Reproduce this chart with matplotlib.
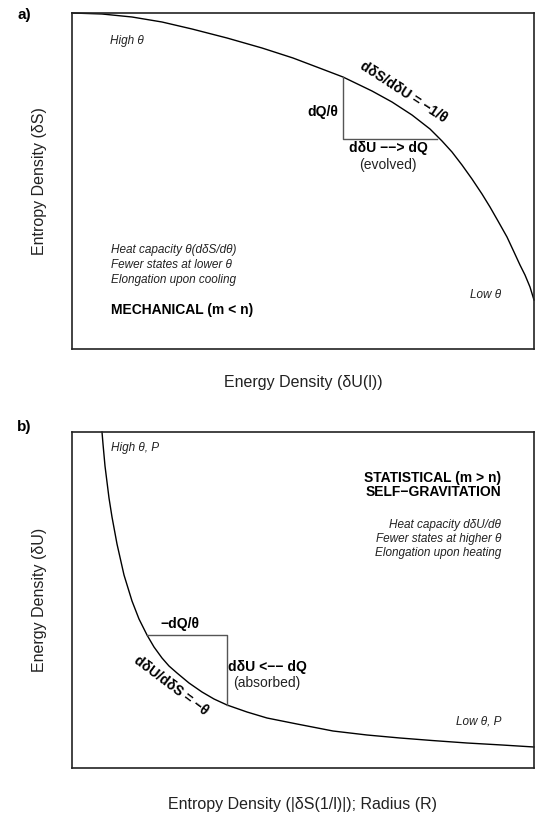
import matplotlib
matplotlib.use("Agg")
import matplotlib.pyplot as plt

plt.rcParams['font.family'] = ['Liberation Sans', 'DejaVu Sans']

# curve of panel a (entropy vs energy)
a_curve_x = [0, 30, 60, 90, 120, 155, 190, 221, 250, 271, 300, 320, 340, 358,
             370, 380, 390, 400, 410, 418, 426, 435, 442, 448, 453, 458, 462]
a_curve_y = [336, 335, 332, 327, 320, 311, 301, 291, 280, 272, 258, 247, 234, 220,
             208, 197, 184, 170, 155, 142, 128, 112, 97, 84, 74, 62, 49]
# slope triangle of panel a
a_tri_x = [271, 271, 365]
a_tri_y = [272, 210, 210]

# curve of panel b (energy vs entropy / radius)
b_curve_x = [30, 31, 32, 33, 35, 37, 40, 45, 52, 60, 67, 75, 82, 90, 97, 105, 117,
             130, 142, 155, 175, 195, 225, 261, 295, 328, 360, 395, 430, 462]
b_curve_y = [336, 324, 313, 302, 286, 270, 251, 224, 193, 167, 149, 133, 121, 110,
             102, 95, 85, 76, 69, 63, 56, 50, 44, 37, 33, 30, 27.5, 25, 23, 21]
# slope triangle of panel b
b_tri_x = [75, 155, 155]
b_tri_y = [133, 133, 63]

W, H = 540, 816
fig = plt.figure(figsize=(5.4, 8.16), dpi=100)

def make_ax(top, bottom):
    ax = fig.add_axes([72 / W, 1 - bottom / H, 462 / W, (bottom - top) / H])
    ax.set_xlim(0, 462)
    ax.set_ylim(0, 336)
    ax.set_xticks([])
    ax.set_yticks([])
    for s in ax.spines.values():
        s.set_linewidth(1.2)
        s.set_color("#222222")
    return ax

small = dict(fontsize=8.5, style="italic", color="#222222", va="center")
bold = dict(fontsize=10, fontweight="bold", color="black", va="center")
plain = dict(fontsize=10, color="#222222", va="center", ha="center")

# ---- panel a
ax1 = make_ax(13, 349)
ax1.plot(a_curve_x, a_curve_y, color="black", lw=1, clip_on=False)
ax1.plot(a_tri_x, a_tri_y, color="#555555", lw=1)

ax1.text(38, 308, "High θ", ha="left", **small)
ax1.text(331, 257, "dδS/dδU = −1/θ", rotation=-33, ha="center",
         rotation_mode="anchor", **bold)
ax1.text(266, 237, "dQ/θ", ha="right", **bold)
ax1.text(316, 201, "dδU −−> dQ", ha="center", **bold)
ax1.text(316, 184, "(evolved)", **plain)
ax1.text(39, 99, "Heat capacity θ(dδS/dθ)", ha="left", **small)
ax1.text(39, 83.5, "Fewer states at lower θ", ha="left", **small)
ax1.text(39, 68.5, "Elongation upon cooling", ha="left", **small)
ax1.text(39, 39, "MECHANICAL (m < n)", ha="left", **bold)
ax1.text(429, 53.5, "Low θ", ha="right", **small)

# ---- panel b
ax2 = make_ax(432, 768)
ax2.plot(b_curve_x, b_curve_y, color="black", lw=1, clip_on=False)
ax2.plot(b_tri_x, b_tri_y, color="#555555", lw=1)

ax2.text(39, 320, "High θ, P", ha="left", **small)
ax2.text(429, 290, "STATISTICAL (m > n)", ha="right", **bold)
ax2.text(429, 275.5, "SELF−GRAVITATION", ha="right", **bold)
ax2.text(429, 243, "Heat capacity dδU/dθ", ha="right", **small)
ax2.text(429, 228.7, "Fewer states at higher θ", ha="right", **small)
ax2.text(429, 214.7, "Elongation upon heating", ha="right", **small)
ax2.text(108, 144, "−dQ/θ", ha="center", **bold)
ax2.text(195, 101.5, "dδU <−− dQ", ha="center", **bold)
ax2.text(195, 85.5, "(absorbed)", **plain)
ax2.text(99, 82, "dδU/dδS = −θ", rotation=-37, ha="center",
         rotation_mode="anchor", **bold)
ax2.text(429, 46.5, "Low θ, P", ha="right", **small)

# ---- panel letters and axis titles
fig.text(24 / W, 1 - 15 / H, "a)", fontsize=11, fontweight="bold", va="center", ha="center")
fig.text(24 / W, 1 - 427 / H, "b)", fontsize=11, fontweight="bold", va="center", ha="center")
fig.text(303 / W, 1 - 383 / H, "Energy Density (δU(l))", fontsize=11.5,
         ha="center", va="center", color="#222222")
fig.text(303 / W, 1 - 805 / H, "Entropy Density (|δS(1/l)|); Radius (R)", fontsize=11.5,
         ha="center", va="center", color="#222222")
fig.text(40 / W, 1 - 181 / H, "Entropy Density (δS)", fontsize=11.5, rotation=90,
         ha="center", va="center", color="#222222")
fig.text(40 / W, 1 - 600 / H, "Energy Density (δU)", fontsize=11.5, rotation=90,
         ha="center", va="center", color="#222222")

fig.savefig("out.png", dpi=100)
plt.close("all")
